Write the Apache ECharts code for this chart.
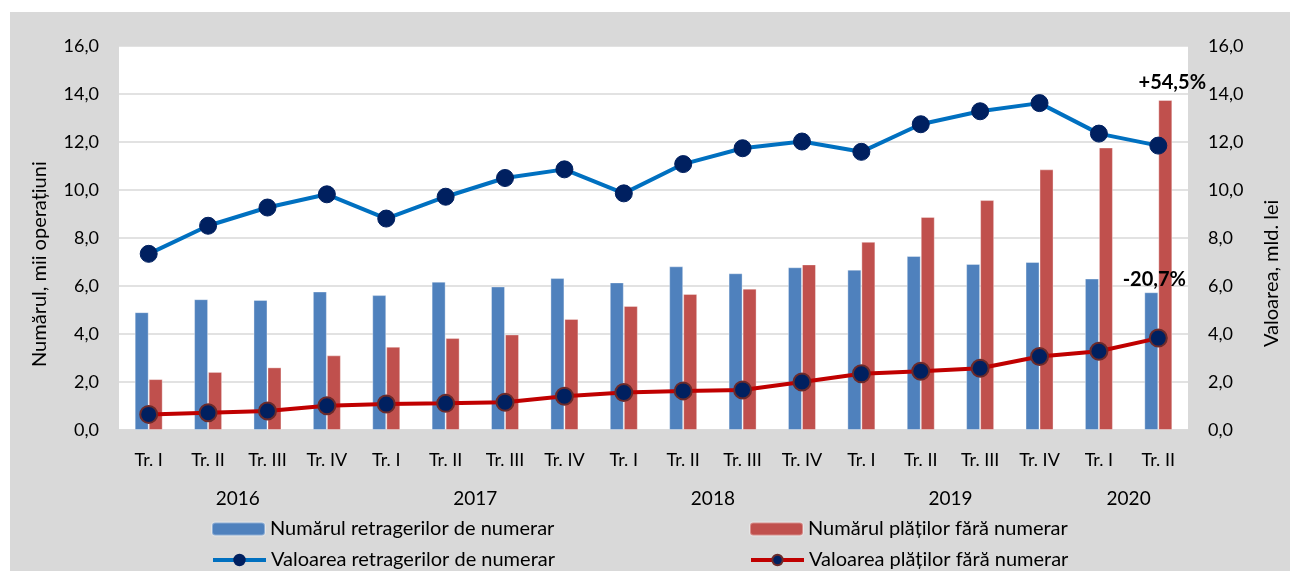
<!DOCTYPE html>
<html>
<head>
<meta charset="utf-8">
<script src="https://cdn.jsdelivr.net/npm/echarts@6/dist/echarts.min.js"></script>
<style>
  html, body { margin:0; padding:0; background:#fff; }
  #bg { position:absolute; left:10px; top:12px; width:1280px; height:559px; background:#d9d9d9; }
  #chart { position:absolute; left:0; top:0; width:1290px; height:571px; }
</style>
</head>
<body>
<div id="bg"></div>
<div id="chart"></div>
<script>
const quarters = ['Tr. I','Tr. II','Tr. III','Tr. IV','Tr. I','Tr. II','Tr. III','Tr. IV','Tr. I','Tr. II','Tr. III','Tr. IV','Tr. I','Tr. II','Tr. III','Tr. IV','Tr. I','Tr. II'];
const years = ['2016','2017','2018','2019','2020'];
const yearSpans = [4,4,4,4,2];

const cashCount    = [4.91,5.45,5.42,5.77,5.62,6.18,5.98,6.33,6.15,6.82,6.53,6.78,6.68,7.25,6.92,7.00,6.31,5.74];
const nonCashCount = [2.12,2.42,2.61,3.11,3.47,3.83,3.98,4.63,5.17,5.67,5.89,6.90,7.84,8.88,9.58,10.86,11.77,13.75];
const cashValue    = [7.34,8.51,9.27,9.82,8.81,9.72,10.50,10.86,9.86,11.08,11.74,12.02,11.59,12.74,13.28,13.62,12.35,11.85];
const nonCashValue = [0.65,0.72,0.79,1.01,1.08,1.11,1.16,1.41,1.56,1.63,1.67,2.00,2.34,2.45,2.57,3.06,3.28,3.83];

const names = ['Numărul retragerilor de numerar','Numărul plăților fără numerar','Valoarea retragerilor de numerar','Valoarea plăților fără numerar'];
const annoNonCash = '+54,5%';
const annoCash = '-20,7%';

const FONT = 'Lato';
const fmt = v => v.toFixed(1).replace('.', ',');

const yearCentres = {};
let acc = 0;
years.forEach((y,i) => { yearCentres[acc + yearSpans[i]/2] = y; acc += yearSpans[i]; });

const annoStyle = { show:true, position:'top', fontFamily:FONT, fontWeight:'bold', fontSize:20, color:'#000' };

const cashData = cashCount.map((v,i) => i === cashCount.length-1
  ? { value:v, label:Object.assign({}, annoStyle, { formatter:annoCash, distance:3, offset:[3,0] }) } : v);
const nonCashData = nonCashCount.map((v,i) => i === nonCashCount.length-1
  ? { value:v, label:Object.assign({}, annoStyle, { formatter:annoNonCash, distance:7, offset:[7,0] }) } : v);

const chart = echarts.init(document.getElementById('chart'), null, { renderer:'canvas' });
const legendBase = { padding:0, itemWidth:53, itemHeight:13, itemGap:5,
  lineStyle:{ width:4 },
  textStyle:{ fontFamily:FONT, fontSize:20, color:'#000' } };

chart.setOption({
  backgroundColor:'transparent',
  animation:false,
  textStyle:{ fontFamily:FONT },
  grid:{ left:119, right:102, top:46, bottom:141, show:true, backgroundColor:'#fff', borderWidth:0 },
  legend:[
    Object.assign({}, legendBase, { data:[names[0]], left:211, top:519 }),
    Object.assign({}, legendBase, { data:[names[1]], left:749, top:519 }),
    Object.assign({}, legendBase, { data:[names[2]], left:211, top:550 }),
    Object.assign({}, legendBase, { data:[names[3]], left:749, top:550 })
  ],
  xAxis:[
    { type:'category', data:quarters, position:'bottom',
      axisLine:{ show:true, lineStyle:{ color:'#d9d9d9', width:1.5 } },
      axisTick:{ show:false },
      axisLabel:{ margin:21, fontFamily:FONT, fontSize:18, color:'#000', interval:0 } },
    { type:'value', min:0, max:18, interval:1, position:'bottom',
      axisLine:{ show:false }, axisTick:{ show:false }, splitLine:{ show:false },
      axisLabel:{ margin:59, fontFamily:FONT, fontSize:19, color:'#000',
        showMinLabel:true, showMaxLabel:true,
        formatter: v => yearCentres[v] || '' } }
  ],
  yAxis:[
    { type:'value', min:0, max:16, interval:2,
      axisLine:{ show:false }, axisTick:{ show:false },
      splitLine:{ show:true, lineStyle:{ color:'#d9d9d9', width:1.5 } },
      axisLabel:{ margin:20, fontFamily:FONT, fontSize:18, color:'#000', formatter:fmt } },
    { type:'value', min:0, max:16, interval:2, position:'right',
      axisLine:{ show:false }, axisTick:{ show:false }, splitLine:{ show:false },
      axisLabel:{ margin:20, fontFamily:FONT, fontSize:18, color:'#000', formatter:fmt } }
  ],
  graphic:[
    { type:'text', x:40, y:367, rotation:Math.PI/2,
      style:{ text:'Numărul, mii operațiuni', fontFamily:FONT, fontSize:20, fill:'#000', textAlign:'left', textVerticalAlign:'middle' } },
    { type:'text', x:1272, y:347, rotation:Math.PI/2,
      style:{ text:'Valoarea, mld. lei', fontFamily:FONT, fontSize:20, fill:'#000', textAlign:'left', textVerticalAlign:'middle' } }
  ],
  series:[
    { name:names[0], type:'bar', data:cashData, barWidth:14, barGap:'0%',
      itemStyle:{ color:'#4F81BD', borderColor:'rgba(255,255,255,0.35)', borderWidth:1 }, z:2 },
    { name:names[1], type:'bar', data:nonCashData, barWidth:14, barGap:'0%',
      itemStyle:{ color:'#C0504D', borderColor:'rgba(255,255,255,0.35)', borderWidth:1 }, z:2 },
    { name:names[2], type:'line', yAxisIndex:1, data:cashValue,
      symbol:'circle', symbolSize:17,
      lineStyle:{ color:'#0070C0', width:4 },
      itemStyle:{ color:'#002060', borderColor:'#002060', borderWidth:1 }, z:3 },
    { name:names[3], type:'line', yAxisIndex:1, data:nonCashValue,
      symbol:'circle', symbolSize:17,
      lineStyle:{ color:'#C00000', width:4 },
      itemStyle:{ color:'#002060', borderColor:'#6B2A2A', borderWidth:2 }, z:3 }
  ]
});
</script>
</body>
</html>
